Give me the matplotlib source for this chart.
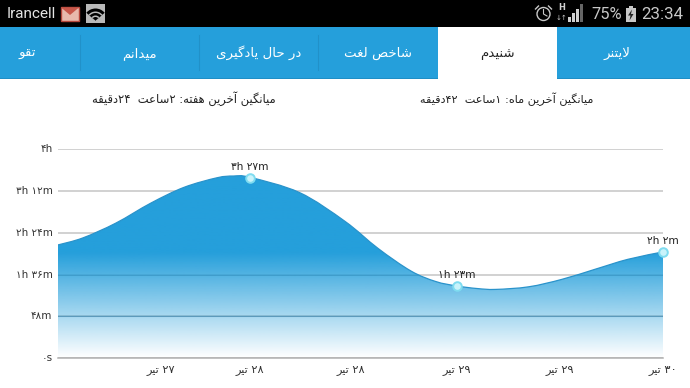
import numpy as np
import matplotlib
matplotlib.use("Agg")
import matplotlib.pyplot as plt
from matplotlib.patches import Rectangle, Circle, Polygon, Wedge, PathPatch
from matplotlib.path import Path

# chart values, minutes per day position (1 day = one data step)
curve_days = [27.07, 27.19, 27.35, 27.52, 27.68, 27.84, 27.92, 28.00, 28.24, 28.46, 28.62,
              28.78, 28.90, 29.00, 29.10, 29.19, 29.35, 29.51, 29.67, 29.83, 30.00]
curve_minutes = [130, 138, 155, 178, 196, 207, 209, 207.5, 190, 157, 126,
                 100, 88, 83, 80, 79, 82, 90.5, 102, 113.5, 122]
point_days = [28, 29, 30]
point_minutes = [207, 83, 122]
point_labels = ["۳h ۲۷m", "۱h ۲۳m", "۲h ۲m"]
y_ticks = [0, 48, 96, 144, 192, 240]
y_labels = ["۰s", "۴۸m", "۱h ۳۶m", "۲h ۲۴m", "۳h ۱۲m", "۴h"]
x_ticks = [27.57, 28, 28.49, 29, 29.5, 30]
x_labels = ["۲۷ تیر", "۲۸ تیر", "۲۸ تیر", "۲۹ تیر", "۲۹ تیر", "۳۰ تیر"]
tab_names = ["تقو", "میدانم", "در حال یادگیری", "شاخص لغت", "شنیدم", "لایتنر"]
tab_centers = [27, 139, 259, 378, 497, 617]
avg_week = "میانگین آخرین هفته: ۲ساعت  ۲۴دقیقه"
avg_month = "میانگین آخرین ماه: ۱ساعت  ۴۲دقیقه"

BLUE = "#259fdb"

# matplotlib has no arabic shaping, so pick the joined glyphs by hand
forms = {
    "ا": (0xFE8D, 0xFE8E), "آ": (0xFE81, 0xFE82), "د": (0xFEA9, 0xFEAA), "ر": (0xFEAD, 0xFEAE),
    "و": (0xFEED, 0xFEEE),
    "ت": (0xFE95, 0xFE96, 0xFE97, 0xFE98), "ح": (0xFEA1, 0xFEA2, 0xFEA3, 0xFEA4),
    "خ": (0xFEA5, 0xFEA6, 0xFEA7, 0xFEA8), "س": (0xFEB1, 0xFEB2, 0xFEB3, 0xFEB4),
    "ش": (0xFEB5, 0xFEB6, 0xFEB7, 0xFEB8), "ص": (0xFEB9, 0xFEBA, 0xFEBB, 0xFEBC),
    "ع": (0xFEC9, 0xFECA, 0xFECB, 0xFECC), "غ": (0xFECD, 0xFECE, 0xFECF, 0xFED0),
    "ف": (0xFED1, 0xFED2, 0xFED3, 0xFED4), "ق": (0xFED5, 0xFED6, 0xFED7, 0xFED8),
    "ل": (0xFEDD, 0xFEDE, 0xFEDF, 0xFEE0), "م": (0xFEE1, 0xFEE2, 0xFEE3, 0xFEE4),
    "ن": (0xFEE5, 0xFEE6, 0xFEE7, 0xFEE8), "ه": (0xFEE9, 0xFEEA, 0xFEEB, 0xFEEC),
    "ی": (0xFBFC, 0xFBFD, 0xFBFE, 0xFBFF), "گ": (0xFB92, 0xFB93, 0xFB94, 0xFB95),
}


def rtl(s):
    s = s.replace("لا", "\uFEFB")
    out = []
    for i, c in enumerate(s):
        if c not in forms:
            out.append(c)
            continue
        prev = s[i - 1] if i > 0 else ""
        nxt = s[i + 1] if i + 1 < len(s) else ""
        before = prev in forms and len(forms[prev]) == 4
        after = (nxt in forms or nxt == "\uFEFB") and len(forms[c]) == 4
        f = forms[c]
        if before and after:
            out.append(chr(f[3]))
        elif before:
            out.append(chr(f[1]))
        elif after:
            out.append(chr(f[2]))
        else:
            out.append(chr(f[0]))
    # reverse for display, digit runs keep their order
    runs = []
    for c in out:
        if c in "۰۱۲۳۴۵۶۷۸۹" and runs and runs[-1][-1] in "۰۱۲۳۴۵۶۷۸۹":
            runs[-1] += c
        else:
            runs.append(c)
    return "".join(reversed(runs))


def spline_path(xs, ys, close_to=None):
    # bezier path through the read points, like the chart library's spline
    p = np.column_stack([xs, ys]).astype(float)
    verts = [p[0]]
    codes = [Path.MOVETO]
    for i in range(len(p) - 1):
        a = p[max(i - 1, 0)]
        b = p[min(i + 2, len(p) - 1)]
        verts += [p[i] + (p[i + 1] - a) / 6, p[i + 1] - (b - p[i]) / 6, p[i + 1]]
        codes += [Path.CURVE4] * 3
    if close_to is not None:
        for v in close_to:
            verts.append(np.array(v, dtype=float))
            codes.append(Path.LINETO)
        verts.append(p[0])
        codes.append(Path.CLOSEPOLY)
    return Path(verts, codes)


fig = plt.figure(figsize=(6.9, 3.88), dpi=100, facecolor="white")

# phone screen around the chart, in pixels
ui = fig.add_axes([0, 0, 1, 1])
ui.set_xlim(0, 690)
ui.set_ylim(388, 0)
ui.axis("off")
ui.add_patch(Rectangle((0, 0), 690, 27, color="black", lw=0))
ui.add_patch(Rectangle((0, 27), 690, 51, color=BLUE, lw=0))
ui.add_patch(Rectangle((0, 77.5), 690, 1, color="#1f8ec6", lw=0))
ui.add_patch(Rectangle((438, 27), 118.5, 52, color="white", lw=0))
for sx in [80, 199, 318]:
    ui.plot([sx, sx], [35, 70], color="#2191c9", lw=0.8)

for name, cx in zip(tab_names, tab_centers):
    active = name == "شنیدم"
    ui.text(cx, 57, rtl(name), ha="center", va="baseline", fontsize=9.6,
            color="#222222" if active else "white", family="DejaVu Sans")
ui.text(184, 99, rtl(avg_week), ha="center", va="center", fontsize=8.3, color="#222222", family="DejaVu Sans")
ui.text(507, 99, rtl(avg_month), ha="center", va="center", fontsize=8.1, color="#222222", family="DejaVu Sans")

# status bar
ui.text(7, 14.5, "Irancell", ha="left", va="center", color="#e4e4e4", fontsize=11, family="Roboto")
ui.add_patch(Rectangle((60.5, 7), 18.5, 13.5, facecolor="#e8b9ac", edgecolor="#b5473b", lw=1))
ui.add_patch(Polygon([[61, 7.5], [70, 15], [79, 7.5]], facecolor="#c8574a", edgecolor="none"))
ui.add_patch(Rectangle((86, 4), 19, 19, facecolor="#b9b9b9", edgecolor="none"))
for r, col in [(12, "black"), (9, "#b9b9b9"), (7.5, "black"), (5, "#b9b9b9"), (3.5, "black")]:
    ui.add_patch(Wedge((95.5, 20.5), r, 220, 320, color=col, lw=0))
ui.add_patch(Circle((543.5, 14), 6.5, facecolor="none", edgecolor="#c8c8c8", lw=1))
ui.plot([543.5, 543.5, 547], [9.5, 14, 16], color="#c8c8c8", lw=0.8)
ui.plot([535.5, 538.5], [9, 6], color="#c8c8c8", lw=1)
ui.plot([548.5, 551.5], [6, 9], color="#c8c8c8", lw=1)
ui.text(561.5, 8, "H", color="#d0d0d0", fontsize=6, ha="center", va="center", family="DejaVu Sans", weight="bold")
ui.text(561.5, 18, "↓↑", color="#c8c8c8", fontsize=5, ha="center", va="center", family="DejaVu Sans")
for bx, bh, bc in [(568, 5, "#d0d0d0"), (572, 9, "#d0d0d0"), (576, 13, "#d0d0d0"), (580, 18, "#666666")]:
    ui.add_patch(Rectangle((bx, 22 - bh), 3, bh, color=bc, lw=0))
ui.text(591, 14.5, "75%", ha="left", va="center", color="#c8c8c8", fontsize=11.8, family="Roboto")
ui.add_patch(Rectangle((625.5, 8), 10.5, 14, facecolor="#c8c8c8", edgecolor="none"))
ui.add_patch(Rectangle((628.5, 6), 4.5, 2, facecolor="#c8c8c8", edgecolor="none"))
ui.add_patch(Polygon([[632, 9.5], [628, 15.5], [630.5, 15.5], [629.5, 20.5], [633.5, 14], [631, 14]], color="#222222", lw=0))
ui.text(683, 14.5, "23:34", ha="right", va="center", color="#c8c8c8", fontsize=12.2, family="Roboto")

# the chart itself
ax = fig.add_axes([58 / 690, (388 - 358.3) / 388, (663 - 58) / 690, 209.3 / 388])
ax.patch.set_alpha(0)
for s in ax.spines.values():
    s.set_visible(False)

ax.set_yticks(y_ticks)
ax.set_yticklabels(y_labels, fontsize=7.5, color="#333333", family="DejaVu Sans", va="center")
ax.set_xticks(x_ticks)
ax.set_xticklabels([rtl(t) for t in x_labels], fontsize=8.2, color="#333333", family="DejaVu Sans")
ax.tick_params(length=0)
ax.tick_params(axis="y", pad=4)
ax.tick_params(axis="x", pad=5)
ax.grid(axis="y", color="#c9c9c9", lw=1.2, zorder=1)
ax.grid(axis="x", visible=False)
ax.set_axisbelow(True)
ax.axhline(0, color="#b0b0b0", lw=1.1, zorder=1, clip_on=False)

# fill: solid blue to about 2h, then fading out to the baseline
grad = np.ones((256, 1, 4))
grad[:, :, :3] = matplotlib.colors.to_rgb(BLUE)
grad[:, 0, 3] = np.clip(np.linspace(240, 0, 256) / 120, 0, 1)
im = ax.imshow(grad, extent=[27.07, 30, 0, 240], aspect="auto", origin="upper", zorder=2)
fill_patch = PathPatch(spline_path(curve_days, curve_minutes, [(30, 0), (27.07, 0)]),
                       transform=ax.transData, facecolor="none", edgecolor="none")
ax.add_patch(fill_patch)
im.set_clip_path(fill_patch)
ax.set_xlim(27.07, 30)
ax.set_ylim(0, 240)

# gridlines show darker through the fill
for yt, al in zip(y_ticks[1:3], [0.45, 0.22]):
    ln = ax.axhline(yt, color="#1f6f9c", lw=0.8, alpha=al, zorder=2.5)
    ln.set_clip_path(fill_patch)

ax.add_patch(PathPatch(spline_path(curve_days, curve_minutes), facecolor="none", edgecolor="#2a93cb", lw=0.9, zorder=3))
ax.plot(point_days, point_minutes, "o", ms=6.2, mfc="#c9f3fb", mec="#7fdcf0", mew=1.4, zorder=4, clip_on=False)
for d, m, t in zip(point_days, point_minutes, point_labels):
    ax.annotate(t, (d, m), xytext=(0, 8), textcoords="offset points", ha="center", va="center",
                fontsize=7.7, color="#222222", family="DejaVu Sans", zorder=5, annotation_clip=False)

fig.savefig("out.png", dpi=100)
